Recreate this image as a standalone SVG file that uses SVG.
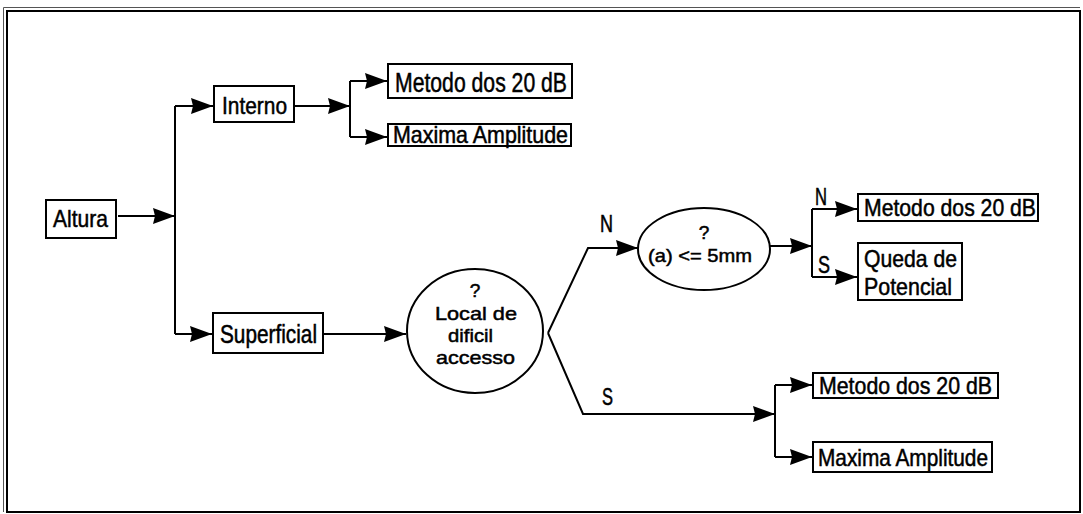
<svg xmlns="http://www.w3.org/2000/svg" width="1083" height="514" viewBox="0 0 1083 514">
<style>
.box{fill:#fff;stroke:#000;stroke-width:2}
.ell{fill:#fff;stroke:#000;stroke-width:2}
.ln{fill:none;stroke:#000;stroke-width:2;stroke-linejoin:miter}
.arr{fill:none;stroke:#000;stroke-width:2;marker-end:url(#ah)}
text{font-family:"Liberation Sans",Arial,sans-serif;fill:#000;stroke:#000;stroke-width:0.5}
.t{font-size:24px}
.s{font-size:19px}
.l{font-size:23px}
</style>
<defs>
<marker id="ah" markerUnits="userSpaceOnUse" markerWidth="24" markerHeight="18" refX="22" refY="8" orient="auto" viewBox="0 0 24 18">
<path d="M0,0 L22,8 L0,16 L2,8 z" fill="#000"/>
</marker>
</defs>
<rect x="0" y="0" width="1083" height="514" fill="#fff"/>
<g id="frame">
<path d="M3.5,512 V7.5 H1080" fill="none" stroke="#555" stroke-width="1"/>
<rect x="7" y="11" width="1073" height="501" fill="none" stroke="#000" stroke-width="2"/>
</g>
<g id="connectors">
<path class="arr" d="M118,216 H175"/>
<path class="ln" d="M175,106 V334"/>
<path class="arr" d="M175,106 H213"/>
<path class="arr" d="M175,334 H212"/>
<path class="arr" d="M294,106 H350"/>
<path class="ln" d="M350,81 V137"/>
<path class="arr" d="M350,81 H387"/>
<path class="arr" d="M350,137 H387"/>
<path class="arr" d="M323,334 H406"/>
<path class="arr" d="M548,333 L588,248 H638"/>
<path class="arr" d="M548,333 L583,414 H775"/>
<path class="arr" d="M770,246 H812"/>
<path class="ln" d="M812,209 V277"/>
<path class="arr" d="M812,209 H857"/>
<path class="arr" d="M812,277 H857"/>
<path class="ln" d="M775,385 V457"/>
<path class="arr" d="M775,385 H812"/>
<path class="arr" d="M775,457 H812"/>
</g>
<g id="labels">
<text class="l" x="600" y="232" textLength="13" lengthAdjust="spacingAndGlyphs">N</text>
<text class="l" x="602" y="405" textLength="11" lengthAdjust="spacingAndGlyphs">S</text>
<text class="l" x="815" y="205" textLength="12" lengthAdjust="spacingAndGlyphs">N</text>
<text class="l" x="818" y="273" textLength="12" lengthAdjust="spacingAndGlyphs">S</text>
</g>
<g id="altura">
<rect class="box" x="46" y="200" width="70" height="38"/>
<text class="t" x="53" y="227" textLength="55" lengthAdjust="spacingAndGlyphs">Altura</text>
</g>
<g id="interno">
<rect class="box" x="214" y="86" width="80" height="36"/>
<text class="t" x="222" y="114" textLength="65" lengthAdjust="spacingAndGlyphs">Interno</text>
</g>
<g id="metodo1">
<rect class="box" x="388" y="64" width="184" height="34"/>
<text x="395" y="92" font-size="27" textLength="172" lengthAdjust="spacingAndGlyphs">Metodo dos 20 dB</text>
</g>
<g id="maxima1">
<rect class="box" x="388" y="124" width="183" height="22"/>
<text class="t" x="393" y="143" textLength="175" lengthAdjust="spacingAndGlyphs">Maxima Amplitude</text>
</g>
<g id="superficial">
<rect class="box" x="213" y="313" width="110" height="40"/>
<text x="220" y="343" font-size="25" textLength="97" lengthAdjust="spacingAndGlyphs">Superficial</text>
</g>
<g id="local">
<ellipse class="ell" cx="475" cy="331" rx="68" ry="62"/>
<text class="s" x="475" y="297" text-anchor="middle">?</text>
<text class="s" x="435" y="320" textLength="82" lengthAdjust="spacingAndGlyphs">Local de</text>
<text class="s" x="448" y="342" textLength="45" lengthAdjust="spacingAndGlyphs">dificil</text>
<text class="s" x="436" y="364" textLength="79" lengthAdjust="spacingAndGlyphs">accesso</text>
</g>
<g id="a5mm">
<ellipse class="ell" cx="704" cy="249" rx="66" ry="41"/>
<text class="s" x="704" y="239" text-anchor="middle">?</text>
<text class="s" x="648" y="262" textLength="104" lengthAdjust="spacingAndGlyphs">(a) &lt;= 5mm</text>
</g>
<g id="metodo2">
<rect class="box" x="858" y="194" width="180" height="27"/>
<text class="t" x="864" y="216" textLength="172" lengthAdjust="spacingAndGlyphs">Metodo dos 20 dB</text>
</g>
<g id="queda">
<rect class="box" x="858" y="243" width="104" height="57"/>
<text class="t" x="864" y="267" textLength="93" lengthAdjust="spacingAndGlyphs">Queda de</text>
<text class="t" x="864" y="295" textLength="88" lengthAdjust="spacingAndGlyphs">Potencial</text>
</g>
<g id="metodo3">
<rect class="box" x="813" y="373" width="185" height="25"/>
<text class="t" x="819" y="394" textLength="173" lengthAdjust="spacingAndGlyphs">Metodo dos 20 dB</text>
</g>
<g id="maxima2">
<rect class="box" x="813" y="442" width="179" height="30"/>
<text class="t" x="818" y="466" textLength="170" lengthAdjust="spacingAndGlyphs">Maxima Amplitude</text>
</g>
</svg>
